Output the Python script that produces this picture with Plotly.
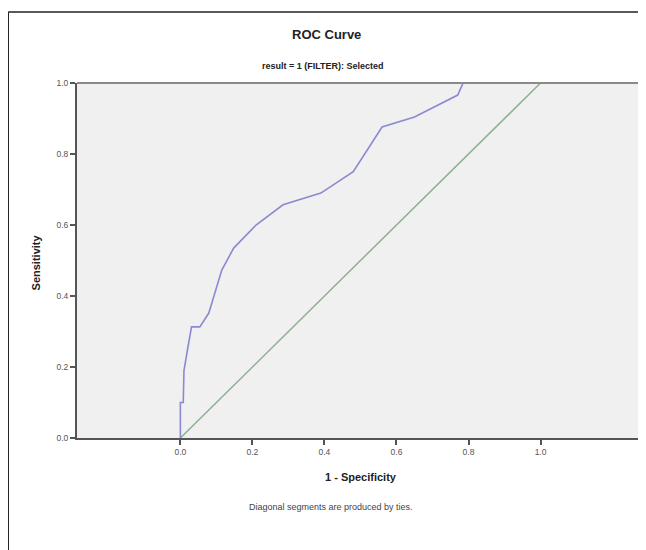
import plotly.graph_objects as go

# ROC curve points
fpr = [0.0, 0.0, 0.008, 0.010, 0.020, 0.031, 0.054, 0.079, 0.115, 0.148, 0.21, 0.285, 0.39, 0.48, 0.56, 0.65, 0.77, 0.785, 1.0]
tpr = [0.0, 0.10, 0.10, 0.19, 0.25, 0.313, 0.313, 0.352, 0.473, 0.535, 0.60, 0.657, 0.69, 0.75, 0.876, 0.904, 0.966, 1.0, 1.0]
ref_x = [0.0, 1.0]
ref_y = [0.0, 1.0]
tick_vals = [0.0, 0.2, 0.4, 0.6, 0.8, 1.0]
tick_text = ["0.0", "0.2", "0.4", "0.6", "0.8", "1.0"]

FONT = "Liberation Sans, Arial, sans-serif"

fig = go.Figure()
fig.add_trace(go.Scatter(x=ref_x, y=ref_y, mode="lines",
                         line=dict(color="#8fb08f", width=1.5), hoverinfo="skip"))
fig.add_trace(go.Scatter(x=fpr, y=tpr, mode="lines",
                         line=dict(color="#8a8ad0", width=1.6)))

fig.update_layout(
    width=638, height=542,
    margin=dict(l=69, r=1, t=75, b=112),
    paper_bgcolor="white", plot_bgcolor="#f0f0f0",
    showlegend=False,
    font=dict(family=FONT, color="#333333"),
)
fig.update_xaxes(range=[-0.287, 1.29], tickvals=tick_vals, ticktext=tick_text,
                 ticks="outside", ticklen=5, tickwidth=2, tickcolor="#555555",
                 tickfont=dict(size=8.5, color="#555555"),
                 showgrid=False, zeroline=False,
                 showline=True, linecolor="#555555", linewidth=2)
fig.update_yaxes(range=[0, 1.0], tickvals=tick_vals, ticktext=tick_text,
                 ticks="outside", ticklen=5, tickwidth=2, tickcolor="#555555",
                 tickfont=dict(size=8.5, color="#555555"),
                 showgrid=False, zeroline=False,
                 showline=True, linecolor="#555555", linewidth=2)

# top/right light border of plot area
fig.add_shape(type="line", xref="paper", yref="paper", x0=0, x1=1, y0=1, y1=1,
              line=dict(color="#8a8a8a", width=2))
fig.add_shape(type="line", xref="paper", yref="paper", x0=1, x1=1, y0=0, y1=1,
              line=dict(color="#9a9a9a", width=2))
# outer frame (top and left edges visible)
fig.add_shape(type="line", xref="paper", yref="paper", x0=(1.2 - 69) / 560, x1=1.2,
              y0=(438 - 12) / 355, y1=(438 - 12) / 355,
              line=dict(color="#222222", width=1.5))
fig.add_shape(type="line", xref="paper", yref="paper", x0=(1.2 - 69) / 560, x1=(1.2 - 69) / 560,
              y0=-0.7, y1=(438 - 12) / 355,
              line=dict(color="#222222", width=1.5))

fig.add_annotation(text="<b>ROC Curve</b>", xref="paper", yref="paper",
                   x=(323 - 77) / 560, y=(438 - 35) / 355, showarrow=False,
                   font=dict(size=13, color="#222222"), xanchor="center", yanchor="middle")
fig.add_annotation(text="<b>result = 1 (FILTER): Selected</b>", xref="paper", yref="paper",
                   x=(320 - 77) / 560, y=(438 - 66) / 355, showarrow=False,
                   font=dict(size=9, color="#222222"), xanchor="center", yanchor="middle")
fig.add_annotation(text="<b>1 - Specificity</b>", xref="paper", yref="paper",
                   x=(357 - 77) / 560, y=(438 - 477) / 355, showarrow=False,
                   font=dict(size=11, color="#222222"), xanchor="center", yanchor="middle")
fig.add_annotation(text="<b>Sensitivity</b>", xref="paper", yref="paper",
                   x=(37 - 77) / 560, y=(438 - 262) / 355, showarrow=False, textangle=-90,
                   font=dict(size=11, color="#222222"), xanchor="center", yanchor="middle")
fig.add_annotation(text="Diagonal segments are produced by ties.", xref="paper", yref="paper",
                   x=(327 - 77) / 560, y=(438 - 507) / 355, showarrow=False,
                   font=dict(size=9, color="#444444"), xanchor="center", yanchor="middle")

fig.write_html("out.html")
